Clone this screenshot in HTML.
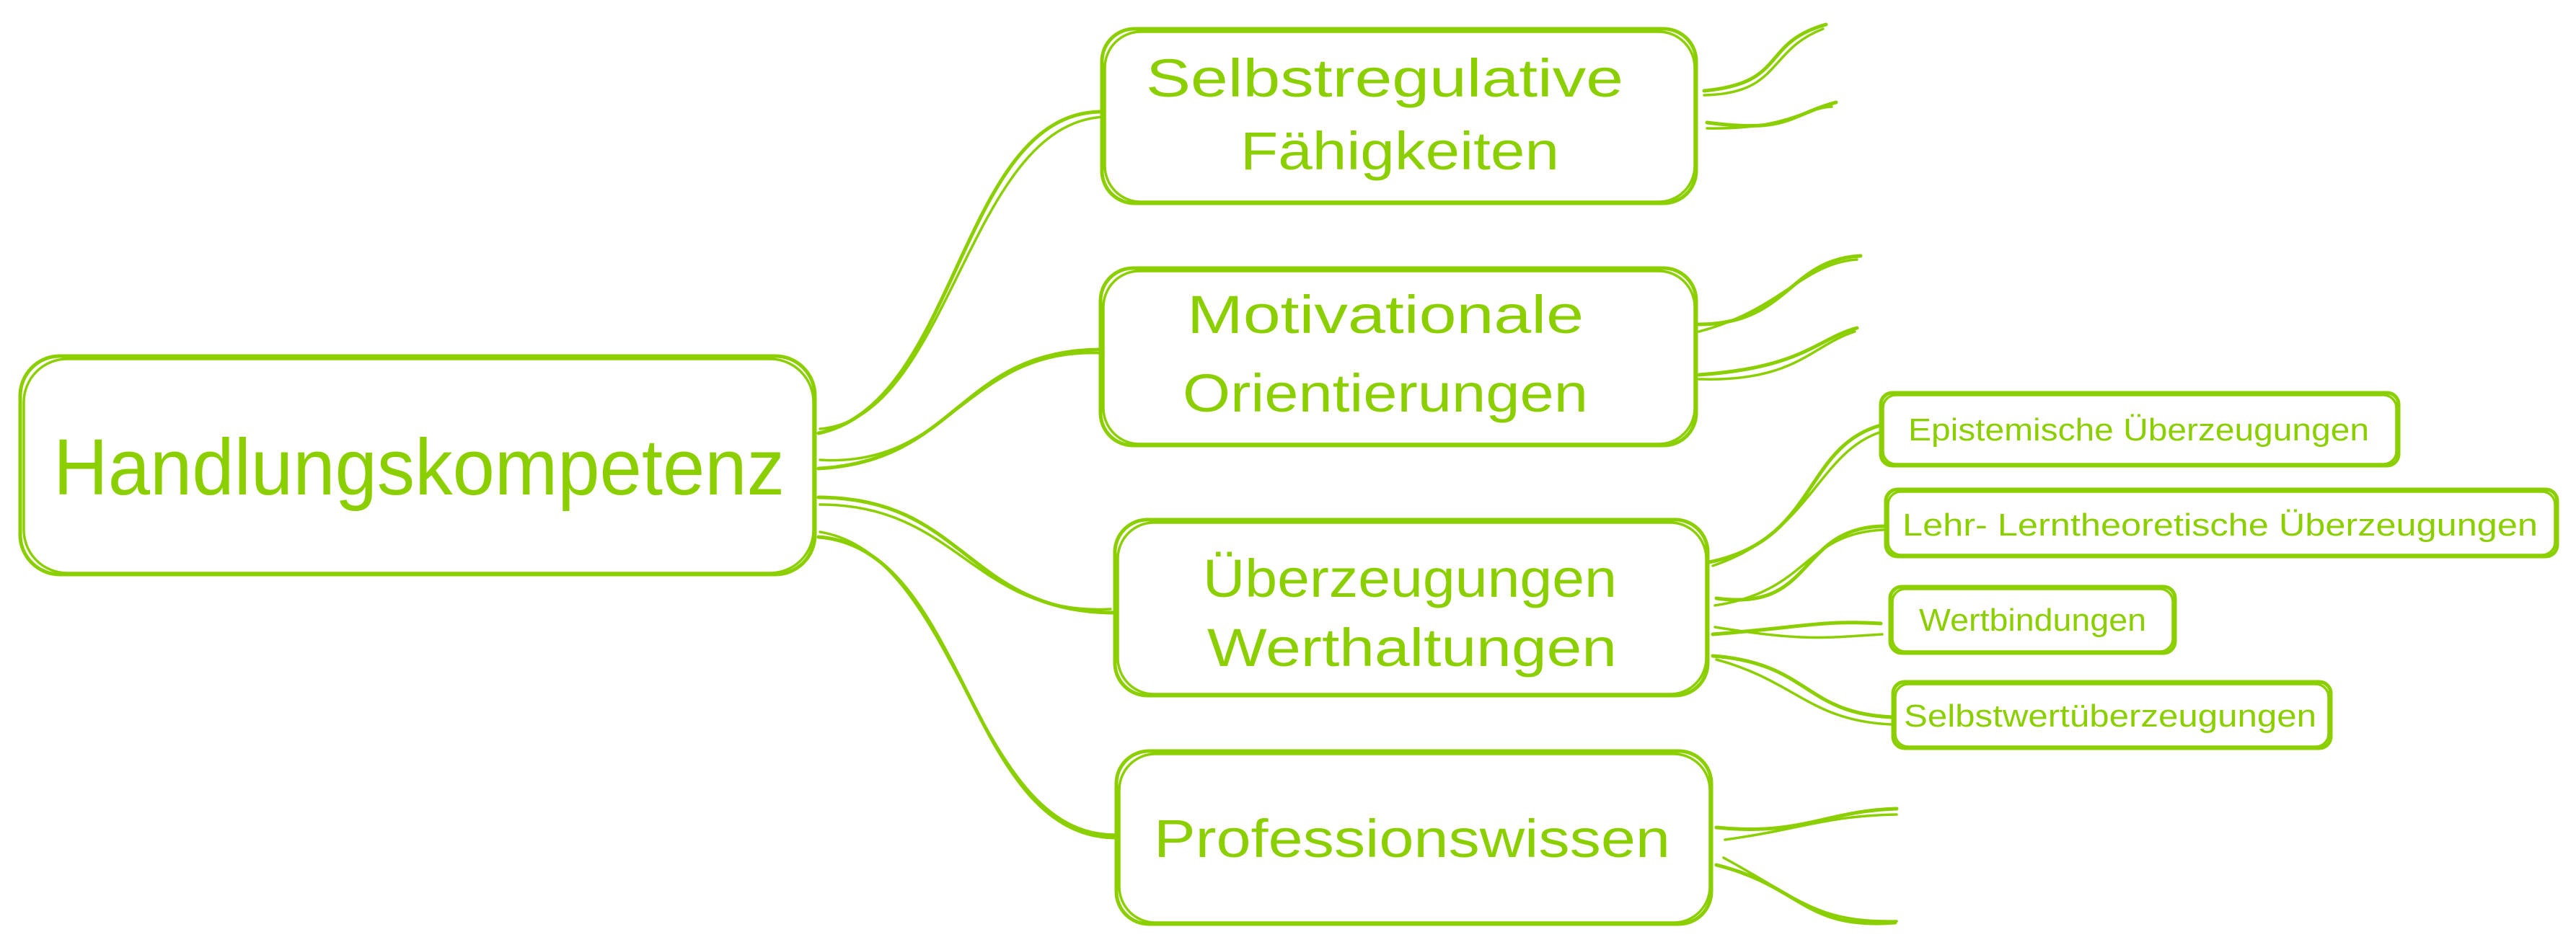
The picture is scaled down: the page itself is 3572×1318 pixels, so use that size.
<!DOCTYPE html>
<html><head><meta charset="utf-8"><style>
html,body{margin:0;padding:0;background:#fff;}
svg{display:block;}
text{font-family:"Liberation Sans",sans-serif;fill:#8ccf00;}
</style></head><body>
<svg width="3572" height="1318" viewBox="0 0 3572 1318" xmlns="http://www.w3.org/2000/svg">
<rect width="3572" height="1318" fill="#fff"/>
<g fill="none" stroke="#8ccf00" stroke-width="5" stroke-linecap="round" stroke-linejoin="round">
<!-- main box -->
<rect x="28" y="494" width="1102" height="303" rx="55"/>
<rect x="33" y="498" width="1095" height="297" rx="60" stroke-width="3.5"/>
<!-- child boxes -->
<rect x="1528" y="40" width="824" height="242" rx="45"/>
<rect x="1532" y="44" width="818" height="236" rx="50" stroke-width="3.5"/>
<rect x="1526" y="372" width="826" height="246" rx="45"/>
<rect x="1530" y="376" width="820" height="240" rx="50" stroke-width="3.5"/>
<rect x="1546" y="721" width="822" height="244" rx="45"/>
<rect x="1550" y="725" width="816" height="238" rx="50" stroke-width="3.5"/>
<rect x="1548" y="1042" width="825" height="240" rx="45"/>
<rect x="1552" y="1046" width="819" height="234" rx="50" stroke-width="3.5"/>
<!-- small boxes -->
<rect x="2608" y="545" width="718" height="101" rx="16"/>
<rect x="2611" y="548" width="712" height="96" rx="18" stroke-width="3.5"/>
<rect x="2615" y="679" width="931" height="93" rx="16"/>
<rect x="2618" y="682" width="925" height="88" rx="18" stroke-width="3.5"/>
<rect x="2621" y="814" width="395" height="92" rx="16"/>
<rect x="2624" y="817" width="389" height="87" rx="18" stroke-width="3.5"/>
<rect x="2625" y="946" width="607" height="92" rx="16"/>
<rect x="2628" y="949" width="601" height="87" rx="18" stroke-width="3.5"/>
<!-- main connectors -->
<path d="M1135 601 C1330 560 1330 155 1528 155"/>
<path d="M1137 595 C1320 580 1340 170 1532 162" stroke-width="3.5"/>
<path d="M1135 650 C1330 640 1330 485 1528 485"/>
<path d="M1137 638 C1320 650 1340 480 1530 490" stroke-width="3.5"/>
<path d="M1135 690 C1340 690 1340 850 1546 850"/>
<path d="M1137 700 C1330 700 1350 855 1540 845" stroke-width="3.5"/>
<path d="M1135 745 C1340 760 1340 1162 1548 1162"/>
<path d="M1137 738 C1330 770 1350 1158 1545 1158" stroke-width="3.5"/>
<!-- stubs -->
<path d="M2363 126 C2480 115 2440 60 2532 34"/>
<path d="M2363 132 C2470 130 2450 70 2528 40" stroke-width="3.5"/>
<path d="M2367 170 C2480 185 2480 160 2546 142"/>
<path d="M2367 178 C2480 180 2500 150 2540 148" stroke-width="3.5"/>
<path d="M2356 450 C2480 450 2480 360 2580 355"/>
<path d="M2356 460 C2470 430 2500 365 2575 360" stroke-width="3.5"/>
<path d="M2356 520 C2500 510 2520 470 2575 455"/>
<path d="M2356 526 C2490 530 2510 480 2572 460" stroke-width="3.5"/>
<path d="M2370 780 C2520 750 2500 620 2608 590"/>
<path d="M2375 785 C2510 740 2520 630 2606 600" stroke-width="3.5"/>
<path d="M2380 830 C2520 850 2490 730 2615 730"/>
<path d="M2378 840 C2510 820 2500 740 2612 735" stroke-width="3.5"/>
<path d="M2375 880 C2500 870 2530 860 2608 865"/>
<path d="M2378 870 C2500 890 2530 885 2610 880" stroke-width="3.5"/>
<path d="M2375 910 C2510 920 2500 990 2625 995"/>
<path d="M2380 915 C2490 945 2510 1000 2622 1005" stroke-width="3.5"/>
<path d="M2380 1148 C2500 1160 2530 1125 2630 1122"/>
<path d="M2392 1165 C2500 1150 2530 1132 2630 1130" stroke-width="3.5"/>
<path d="M2380 1200 C2500 1230 2500 1290 2628 1280"/>
<path d="M2390 1190 C2500 1250 2520 1280 2630 1278" stroke-width="3.5"/>
</g>
<g font-size="110">
<text x="74" y="686" textLength="1014" lengthAdjust="spacingAndGlyphs">Handlungskompetenz</text>
</g>
<g font-size="74">
<text x="1589" y="134" textLength="662" lengthAdjust="spacingAndGlyphs">Selbstregulative</text>
<text x="1720" y="235" textLength="442" lengthAdjust="spacingAndGlyphs">Fähigkeiten</text>
<text x="1646" y="462" textLength="550" lengthAdjust="spacingAndGlyphs">Motivationale</text>
<text x="1640" y="571" textLength="562" lengthAdjust="spacingAndGlyphs">Orientierungen</text>
<text x="1668" y="828" textLength="574" lengthAdjust="spacingAndGlyphs">Überzeugungen</text>
<text x="1674" y="924" textLength="568" lengthAdjust="spacingAndGlyphs">Werthaltungen</text>
<text x="1600" y="1189" textLength="716" lengthAdjust="spacingAndGlyphs">Professionswissen</text>
</g>
<g font-size="44">
<text x="2646" y="611" textLength="639" lengthAdjust="spacingAndGlyphs">Epistemische Überzeugungen</text>
<text x="2638" y="743" textLength="881" lengthAdjust="spacingAndGlyphs">Lehr- Lerntheoretische Überzeugungen</text>
<text x="2661" y="875" textLength="315" lengthAdjust="spacingAndGlyphs">Wertbindungen</text>
<text x="2640" y="1008" textLength="572" lengthAdjust="spacingAndGlyphs">Selbstwertüberzeugungen</text>
</g>
</svg>
</body></html>
